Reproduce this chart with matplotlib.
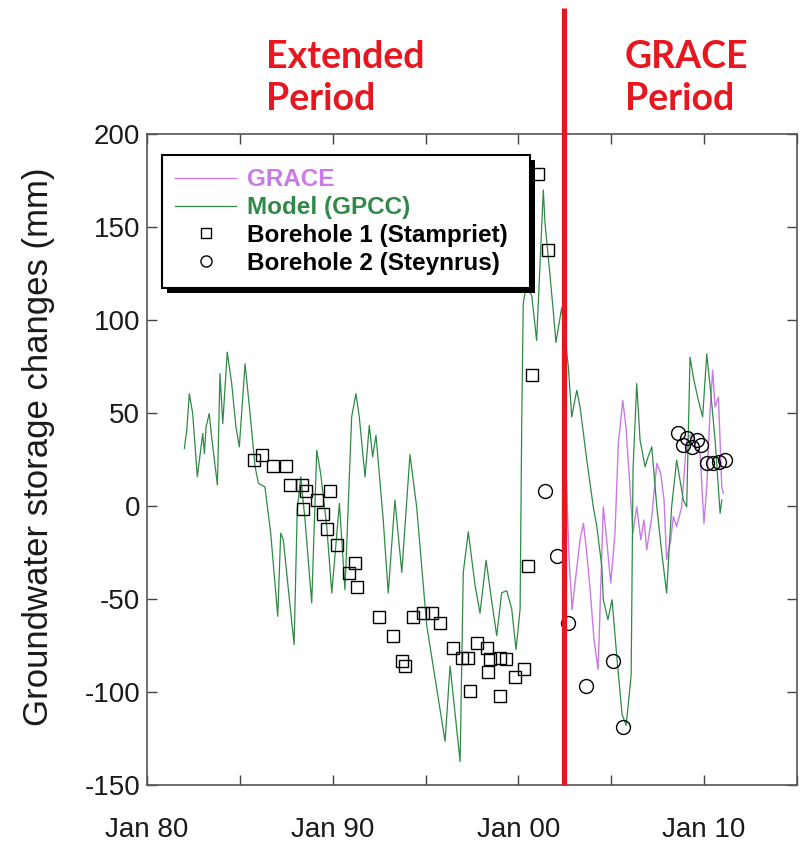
import matplotlib
matplotlib.use("Agg")
import matplotlib.pyplot as plt
from matplotlib.patches import Rectangle
from matplotlib.transforms import IdentityTransform

plt.rcParams['font.family'] = ['Liberation Sans', 'DejaVu Sans']
plt.rcParams['axes.unicode_minus'] = False

# ---------------- data ----------------
model_years = [1982.01, 1982.14, 1982.28, 1982.46, 1982.71, 1983.00, 1983.09, 1983.18, 1983.35, 1983.48,
               1983.79, 1983.93, 1984.08, 1984.32, 1984.56, 1984.79, 1984.97, 1985.28, 1985.55, 1985.82,
               1986.00, 1986.35, 1986.66, 1986.95, 1987.04, 1987.20, 1987.34, 1987.56, 1987.92, 1988.09,
               1988.28, 1988.51, 1988.87, 1989.14, 1989.35, 1989.68, 1989.95, 1990.36, 1990.66, 1991.02,
               1991.25, 1991.43, 1991.74, 1991.97, 1992.15, 1992.33, 1992.72, 1992.99, 1993.35, 1993.72,
               1994.16, 1994.52, 1995.06, 1996.05, 1996.32, 1996.86, 1997.03, 1997.30, 1997.66, 1997.93,
               1998.26, 1998.56, 1998.83, 1999.10, 1999.37, 1999.64, 1999.87, 2000.09, 2000.18, 2000.26,
               2000.41, 2000.72, 2000.98, 2001.34, 2001.43, 2001.70, 2001.88, 2002.02, 2002.33, 2002.69,
               2002.87, 2003.14, 2003.32, 2003.68, 2004.03, 2004.22, 2004.49, 2004.57, 2004.82, 2005.04,
               2005.31, 2005.58, 2005.80, 2006.07, 2006.17, 2006.37, 2006.55, 2006.82, 2006.98, 2007.18,
               2007.45, 2007.72, 2007.98, 2008.25, 2008.52, 2008.88, 2009.06, 2009.24, 2009.45, 2009.69,
               2009.92, 2010.14, 2010.36, 2010.59, 2010.86, 2010.95]
model_values = [30.9, 40.7, 60.4, 49.7, 15.7, 39.0, 28.2, 42.5, 49.7, 37.1,
                11.3, 71.1, 44.3, 82.7, 65.8, 42.5, 31.8, 76.5, 49.7, 21.1,
                12.2, 10.3, -14.6, -48.6, -59.3, -14.6, -18.2, -39.7, -74.5, -2.1,
                15.7, -7.5, -52.1, 30.0, 17.5, -11.1, -46.8, 1.4, -45.0, 47.9,
                60.4, 47.9, 15.7, 43.4, 26.4, 38.0, -7.5, -46.8, 3.2, -35.7,
                27.7, -0.5, -64.1, -126.5, -86.0, -137.4, -35.7, -13.9, -42.3, -57.6,
                -29.2, -51.0, -69.7, -46.6, -45.6, -55.4, -77.2, -55.4, 47.4, 108.8,
                118.4, 113.0, 89.0, 169.9, 152.4, 124.0, 104.3, 87.9, 106.6, 74.6,
                47.9, 62.2, 53.2, 24.7, -0.4, -11.1, -32.5, -50.4, -61.1, -50.4,
                -82.5, -112.0, -117.9, -91.1, 19.3, 65.8, 35.4, 21.1, 26.4, 31.8,
                -0.4, -25.3, -46.8, -0.4, 24.7, 3.2, -0.4, 80.0, 67.5, 56.8,
                47.9, 81.8, 60.4, 35.4, -3.9, 3.2]

grace_years = [2002.56, 2002.73, 2002.89, 2003.05, 2003.32, 2003.50, 2003.68, 2003.86, 2004.07, 2004.29,
               2004.57, 2004.75, 2004.97, 2005.20, 2005.38, 2005.62, 2005.79, 2005.97, 2006.16, 2006.37,
               2006.59, 2006.76, 2006.91, 2007.18, 2007.45, 2007.66, 2007.84, 2007.98, 2008.20, 2008.34,
               2008.52, 2008.79, 2009.06, 2009.33, 2009.56, 2009.78, 2009.99, 2010.14, 2010.32, 2010.46,
               2010.59, 2010.77, 2010.95, 2011.03]
grace_values = [19.3, -28.9, -55.7, -41.3, -18.2, -9.3, -25.3, -45.0, -71.8, -87.9,
                -0.4, -18.2, -41.4, -14.5, 33.6, 56.8, 42.5, 15.7, -14.6, -0.4,
                -18.2, -7.5, -23.6, -5.7, 22.9, 17.5, 3.2, -28.9, -18.2, -5.7,
                -11.1, -0.4, 35.4, 39.0, 31.8, 28.2, -9.3, 10.3, 51.4, 72.9,
                53.2, 58.6, 10.3, 6.8]

bh1_years = [1985.76, 1986.19, 1986.79, 1987.49, 1987.70, 1988.35, 1988.56, 1988.40, 1989.15, 1989.85,
             1989.48, 1989.69, 1990.23, 1991.20, 1990.88, 1991.31, 1992.49, 1993.25, 1993.73, 1993.89,
             1994.32, 1994.86, 1995.35, 1995.78, 1996.48, 1996.96, 1997.29, 1997.39, 1997.77, 1998.31,
             1998.47, 1998.36, 1999.01, 1999.01, 1999.33, 1999.82, 2000.30, 2000.52, 2000.73, 2001.06,
             2001.59]
bh1_values = [24.7, 27.3, 21.4, 21.4, 11.3, 11.3, 8.0, -1.6, 3.2, 8.0,
              -4.3, -12.3, -20.9, -30.5, -35.9, -43.4, -59.5, -69.7, -83.6, -86.0,
              -59.5, -57.6, -57.6, -62.7, -76.1, -81.5, -81.5, -99.7, -73.4, -76.1,
              -82.5, -89.5, -81.5, -102.4, -82.0, -92.2, -87.9, -32.4, 70.2, 178.7,
              137.7]

bh2_years = [2001.43, 2002.08, 2002.67, 2003.64, 2005.09, 2005.63, 2008.59, 2008.86, 2009.08, 2009.35,
             2009.62, 2009.83, 2010.16, 2010.48, 2010.80, 2011.12]
bh2_values = [8.0, -27.0, -63.0, -97.0, -83.6, -119.0, 39.1, 32.7, 36.4, 31.6,
              35.4, 32.7, 23.0, 23.0, 23.6, 24.7]

grace_start = 2002.45
x_ticks = [1980, 1985, 1990, 1995, 2000, 2005, 2010, 2015]
x_ticklabels = ['Jan 80', '', 'Jan 90', '', 'Jan 00', '', 'Jan 10', '']
y_ticks = [-150, -100, -50, 0, 50, 100, 150, 200]

# ---------------- colours ----------------
green = '#2f8a47'
purple = '#c97ae6'
red = '#e8161e'

fig = plt.figure(figsize=(8.04, 8.42), dpi=100)
ax = fig.add_axes([147 / 804, 1 - 785 / 842, 650 / 804, 651 / 842])

ax.plot(grace_years, grace_values, color=purple, lw=1.0, label='GRACE', zorder=2)
ax.plot(model_years, model_values, color=green, lw=0.9, label='Model (GPCC)', zorder=3)
ax.plot(bh1_years, bh1_values, ls='none', marker='s', ms=9, mfc='none', mec='black', mew=1.0,
        label='Borehole 1 (Stampriet)', zorder=4)
ax.plot(bh2_years, bh2_values, ls='none', marker='o', ms=10, mfc='none', mec='black', mew=1.0,
        label='Borehole 2 (Steynrus)', zorder=4)

ax.plot([grace_start, grace_start], [-150, 268], color=red, lw=3.8, clip_on=False, zorder=6,
        solid_capstyle='butt')

ax.set_xlim(1980, 2015)
ax.set_ylim(-150, 200)
ax.set_xticks(x_ticks)
ax.set_xticklabels(x_ticklabels)
ax.set_yticks(y_ticks)
ax.tick_params(axis='both', direction='in', length=7, width=1.0, color='#444444',
               top=True, right=True, labelsize=20, labelcolor='#1a1a1a')
ax.tick_params(axis='x', pad=23)
ax.tick_params(axis='y', pad=5)
for s in ax.spines.values():
    s.set_linewidth(1.2)
    s.set_color('#555555')

ax.set_ylabel('Groundwater storage changes (mm)', fontsize=25, color='#1a1a1a')
ax.yaxis.set_label_coords(-0.142, 0.52)

leg = ax.legend(loc='upper left', bbox_to_anchor=(0.023, 0.5, 0.566, 0.468), mode='expand',
                borderaxespad=0,
                prop={'family': 'Liberation Sans', 'weight': 'bold', 'size': 17.5},
                frameon=True, fancybox=False, edgecolor='black', framealpha=1,
                handlelength=2.5, handletextpad=0.45, labelspacing=0.2, borderpad=0.55,
                markerscale=0.8)
leg.get_frame().set_linewidth(1.5)
leg.set_zorder(7)
for t, c in zip(leg.get_texts(), [purple, green, 'black', 'black']):
    t.set_color(c)

fig.text(266 / 804, 1 - 40 / 842, 'Extended\nPeriod', color=red, fontsize=27, fontweight='bold',
         family=['Lato', 'DejaVu Sans'], ha='left', va='top', linespacing=1.3)
fig.text(625 / 804, 1 - 40 / 842, 'GRACE\nPeriod', color=red, fontsize=27, fontweight='bold',
         family=['Lato', 'DejaVu Sans'], ha='left', va='top', linespacing=1.3)

# black drop shadow for the legend
fig.canvas.draw()
bb = leg.get_window_extent()
shadow = Rectangle((bb.x0 + 5, bb.y0 - 5), bb.width, bb.height, transform=IdentityTransform(),
                   facecolor='black', edgecolor='none', clip_on=False, zorder=6.9)
ax.add_patch(shadow)

fig.savefig('out.png', dpi=100)
